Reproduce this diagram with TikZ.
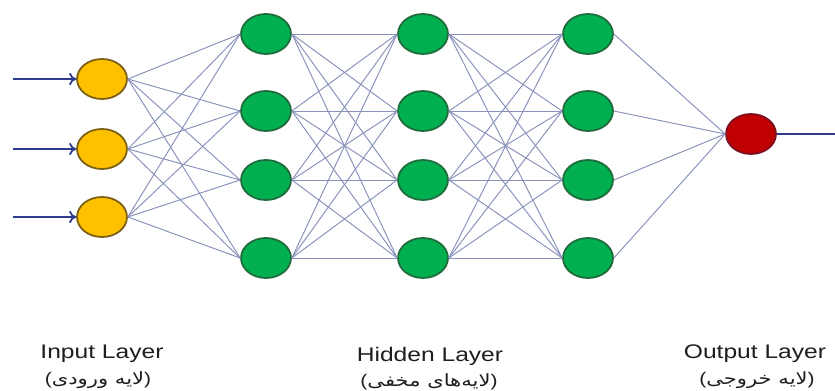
\documentclass[tikz,border=0pt]{standalone}
\usepackage{fontspec}
\setmainfont{Liberation Sans}
\newfontfamily\persianfont[Script=Arabic]{DejaVu Sans}
\TeXXeTstate=1
\usetikzlibrary{shapes.geometric,arrows.meta}

\definecolor{infill}{HTML}{FFC000}
\definecolor{inedge}{HTML}{7A6010}
\definecolor{hidfill}{HTML}{00B050}
\definecolor{hidedge}{HTML}{1F6B3C}
\definecolor{outfill}{HTML}{C00000}
\definecolor{outedge}{HTML}{7A1020}
\definecolor{wirecol}{HTML}{8892BA}
\definecolor{navy}{HTML}{2F3C8C}
\definecolor{txtgray}{HTML}{1E1E1E}

\begin{document}
\begin{tikzpicture}[x=0.02cm,y=-0.02cm,
  neuron/.style={ellipse,draw,line width=1pt,minimum width=1cm,minimum height=0.8cm,inner sep=0pt},
  wire/.style={wirecol,line width=0.55pt},
  layertext/.style={text=txtgray,yscale=0.8,font=\fontsize{14}{16}\selectfont},
  farstext/.style={text=txtgray,yscale=0.8,font=\fontsize{12}{14}\selectfont}]
\useasboundingbox (0,0) rectangle (835,391);
% neurons
\foreach \y [count=\i] in {79,149,217} {
  \node (I\i) [neuron,fill=infill,draw=inedge] at (102,\y) {};
  \coordinate (S\i) at (13,\y);
}
\foreach \y [count=\i] in {34,111,180,258} {
  \node (A\i) [neuron,fill=hidfill,draw=hidedge] at (266,\y) {};
  \node (B\i) [neuron,fill=hidfill,draw=hidedge] at (423,\y) {};
  \node (C\i) [neuron,fill=hidfill,draw=hidedge] at (588,\y) {};
}
\node (O) [neuron,fill=outfill,draw=outedge] at (751,134) {};
\coordinate (E) at (835,134);
% connections
\foreach \i in {1,2,3}
  \foreach \j in {1,...,4}
    \draw [wire] (I\i.east) -- (A\j.west);
\foreach \i in {1,...,4}
  \foreach \j in {1,...,4} {
    \draw [wire] (A\i.east) -- (B\j.west);
    \draw [wire] (B\i.east) -- (C\j.west);
  }
\foreach \i in {1,...,4}
  \draw [wire] (C\i.east) -- (O.west);
\foreach \i in {1,2,3}
  \draw [navy,line width=1pt,-{To[length=4pt,width=7pt]}] (S\i) -- (I\i.west);
\draw [navy,line width=1pt] (O.east) -- (E);
% labels
\node (inlab) [layertext] at (102,354) {Input Layer};
\node (infa) [farstext] at (98,380) {({\persianfont\beginR لایه ورودی\endR})};
\node (hidlab) [layertext] at (430,356) {Hidden Layer};
\node (hidfa) [farstext] at (429,382) {({\persianfont\beginR لایه‌های مخفی\endR})};
\node (outlab) [layertext] at (755,354) {Output Layer};
\node (outfa) [farstext] at (757,380) {({\persianfont\beginR لایه خروجی\endR})};
\end{tikzpicture}
\end{document}
